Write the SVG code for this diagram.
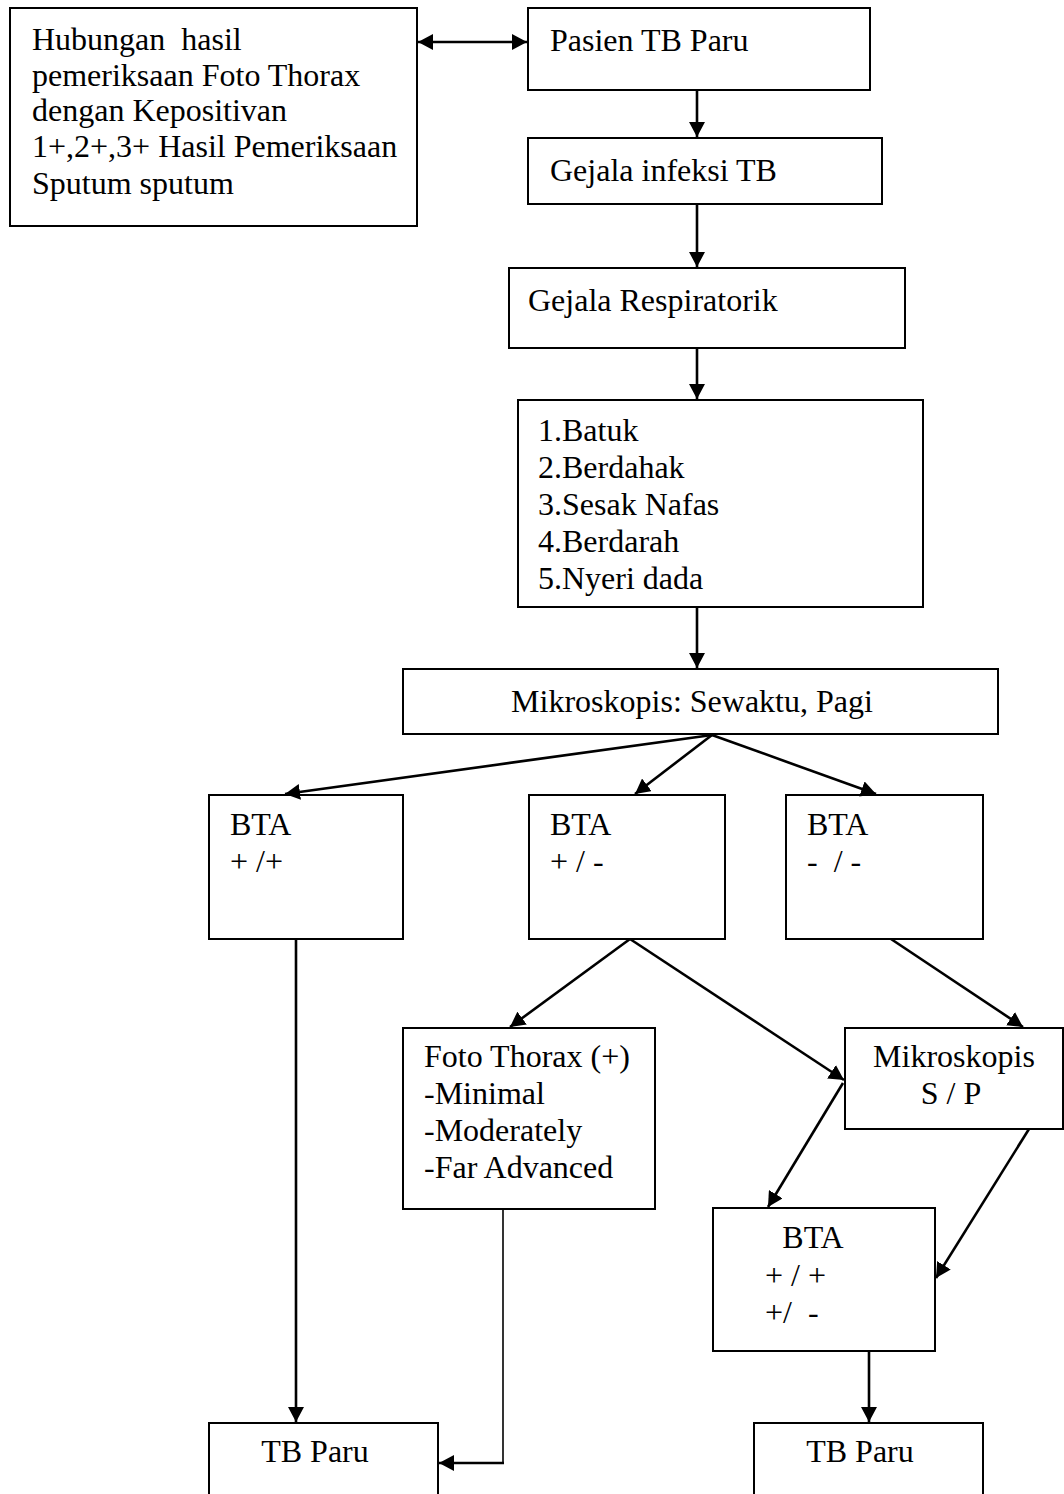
<svg xmlns="http://www.w3.org/2000/svg" width="1064" height="1494" viewBox="0 0 1064 1494">
<style>
rect{fill:#fff;stroke:#000;stroke-width:2}
text{font-family:"Liberation Serif","Times New Roman",serif;font-size:32px;fill:#000;white-space:pre}
.c line,.c polyline{stroke:#000;stroke-width:2.6;fill:none}
</style>
<defs>
<marker id="ah" viewBox="0 0 15 16" refX="15" refY="8" markerWidth="15" markerHeight="16" markerUnits="userSpaceOnUse" orient="auto-start-reverse">
<path d="M0,0 L15,8 L0,16 Z" fill="#000"/>
</marker>
</defs>
<g id="n-hubungan"><rect x="10" y="8" width="407" height="218"/>
<text x="32" y="50" xml:space="preserve">Hubungan  hasil</text>
<text x="32" y="86">pemeriksaan Foto Thorax</text>
<text x="32" y="121">dengan Kepositivan</text>
<text x="32" y="157">1+,2+,3+ Hasil Pemeriksaan</text>
<text x="32" y="194">Sputum sputum</text></g>
<g id="n-pasien"><rect x="528" y="8" width="342" height="82"/><text x="550" y="51">Pasien TB Paru</text></g>
<g id="n-gejala"><rect x="528" y="138" width="354" height="66"/><text x="550" y="181">Gejala infeksi TB</text></g>
<g id="n-resp"><rect x="509" y="268" width="396" height="80"/><text x="528" y="311">Gejala Respiratorik</text></g>
<g id="n-list"><rect x="518" y="400" width="405" height="207"/>
<text x="538" y="441">1.Batuk</text>
<text x="538" y="478">2.Berdahak</text>
<text x="538" y="515">3.Sesak Nafas</text>
<text x="538" y="552">4.Berdarah</text>
<text x="538" y="589">5.Nyeri dada</text></g>
<g id="n-mikro"><rect x="403" y="669" width="595" height="65"/><text x="692" y="712" text-anchor="middle">Mikroskopis: Sewaktu, Pagi</text></g>
<g id="n-bta1"><rect x="209" y="795" width="194" height="144"/><text x="230" y="835">BTA</text><text x="230" y="872">+ /+</text></g>
<g id="n-bta2"><rect x="529" y="795" width="196" height="144"/><text x="550" y="835">BTA</text><text x="550" y="872">+ / -</text></g>
<g id="n-bta3"><rect x="786" y="795" width="197" height="144"/><text x="807" y="835">BTA</text><text x="807" y="872" xml:space="preserve">-  / -</text></g>
<g id="n-foto"><rect x="403" y="1028" width="252" height="181"/>
<text x="424" y="1067">Foto Thorax (+)</text>
<text x="424" y="1104">-Minimal</text>
<text x="424" y="1141">-Moderately</text>
<text x="424" y="1178">-Far Advanced</text></g>
<g id="n-sp"><rect x="845" y="1028" width="218" height="101"/><text x="954" y="1067" text-anchor="middle">Mikroskopis</text><text x="951" y="1104" text-anchor="middle">S / P</text></g>
<g id="n-bta4"><rect x="713" y="1208" width="222" height="143"/><text x="813" y="1248" text-anchor="middle">BTA</text><text x="765" y="1286">+ / +</text><text x="765" y="1323" xml:space="preserve">+/  -</text></g>
<g id="n-tb1"><rect x="209" y="1423" width="229" height="90"/><text x="315" y="1462" text-anchor="middle">TB Paru</text></g>
<g id="n-tb2"><rect x="754" y="1423" width="229" height="90"/><text x="860" y="1462" text-anchor="middle">TB Paru</text></g>
<g id="connectors" class="c">
<line x1="418" y1="42" x2="527" y2="42" marker-start="url(#ah)" marker-end="url(#ah)"/>
<line x1="697" y1="90" x2="697" y2="137" marker-end="url(#ah)"/>
<line x1="697" y1="204" x2="697" y2="267" marker-end="url(#ah)"/>
<line x1="697" y1="348" x2="697" y2="399" marker-end="url(#ah)"/>
<line x1="697" y1="607" x2="697" y2="668" marker-end="url(#ah)"/>
<line x1="712" y1="735" x2="285" y2="794" marker-end="url(#ah)"/>
<line x1="712" y1="735" x2="635" y2="794" marker-end="url(#ah)"/>
<line x1="712" y1="735" x2="876" y2="794" marker-end="url(#ah)"/>
<line x1="296" y1="939" x2="296" y2="1422" marker-end="url(#ah)"/>
<line x1="630" y1="939" x2="510" y2="1027" marker-end="url(#ah)"/>
<line x1="630" y1="939" x2="844" y2="1080" marker-end="url(#ah)"/>
<line x1="891" y1="939" x2="1023" y2="1027" marker-end="url(#ah)"/>
<line x1="843" y1="1083" x2="768" y2="1207" marker-end="url(#ah)"/>
<line x1="1029" y1="1129" x2="936" y2="1278" marker-end="url(#ah)"/>
<line x1="869" y1="1351" x2="869" y2="1422" marker-end="url(#ah)"/>
<line x1="503" y1="1209" x2="503" y2="1463" style="stroke-width:1.6"/>
<line x1="504" y1="1463" x2="439" y2="1463" marker-end="url(#ah)"/>
</g>
</svg>
